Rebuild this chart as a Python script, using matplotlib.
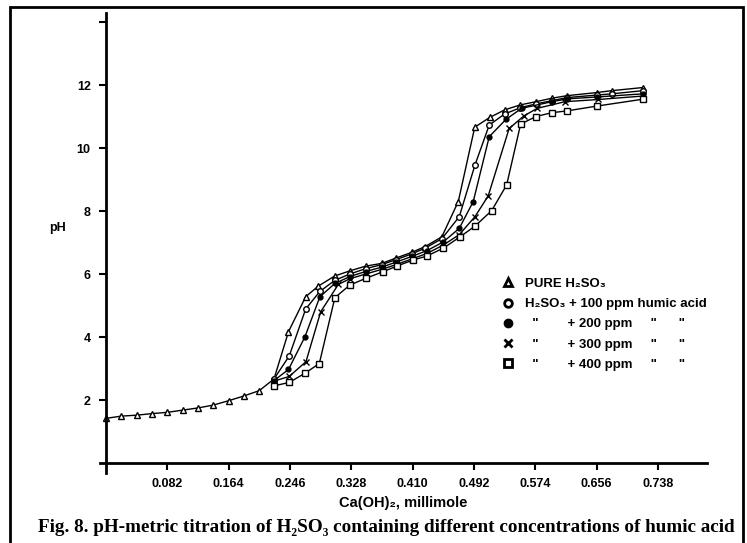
import matplotlib.pyplot as plt
from matplotlib.lines import Line2D
from matplotlib.patches import Rectangle

plt.rcParams['font.family'] = ['Liberation Sans', 'DejaVu Sans']
plt.rcParams['font.weight'] = 'bold'

# common start of all curves (pure acid points)
x_start = [0.0, 0.0205, 0.041, 0.0615, 0.082, 0.1025, 0.123, 0.1435, 0.164, 0.1845, 0.205]
ph_start = [1.42, 1.49, 1.52, 1.57, 1.61, 1.68, 1.75, 1.84, 1.98, 2.13, 2.30]

# pure H2SO3
x_pure = x_start + [0.2246, 0.244, 0.267, 0.284, 0.306, 0.326, 0.347, 0.369, 0.388, 0.409,
                    0.4265, 0.449, 0.471, 0.493, 0.513, 0.533, 0.554, 0.575, 0.596, 0.616,
                    0.656, 0.676, 0.718]
ph_pure = ph_start + [2.67, 4.17, 5.28, 5.62, 5.94, 6.10, 6.25, 6.34, 6.51, 6.69,
                      6.87, 7.18, 8.30, 10.66, 10.97, 11.21, 11.37, 11.47, 11.58, 11.66,
                      11.76, 11.82, 11.92]

# + 100 ppm humic acid
x_100 = [0.2246, 0.245, 0.267, 0.286, 0.306, 0.326, 0.347, 0.369, 0.388, 0.409, 0.4265,
         0.449, 0.4723, 0.4933, 0.5124, 0.533, 0.554, 0.575, 0.596, 0.616, 0.656, 0.676, 0.718]
ph_100 = [2.67, 3.40, 4.89, 5.45, 5.80, 6.00, 6.17, 6.30, 6.46, 6.64, 6.82,
          7.12, 7.82, 9.46, 10.73, 11.08, 11.28, 11.40, 11.50, 11.60, 11.68, 11.72, 11.82]

# + 200 ppm
x_200 = [0.2246, 0.244, 0.266, 0.286, 0.306, 0.326, 0.347, 0.369, 0.388, 0.409, 0.4288,
         0.451, 0.4723, 0.491, 0.5124, 0.5348, 0.5557, 0.596, 0.6167, 0.656, 0.718]
ph_200 = [2.62, 2.97, 4.01, 5.28, 5.70, 5.92, 6.08, 6.22, 6.38, 6.56, 6.74,
          7.02, 7.45, 8.30, 10.36, 10.91, 11.26, 11.47, 11.56, 11.62, 11.72]

# + 300 ppm
x_300 = [0.2246, 0.245, 0.2674, 0.287, 0.3106, 0.326, 0.347, 0.369, 0.388, 0.409, 0.4288,
         0.451, 0.4723, 0.4933, 0.511, 0.539, 0.5588, 0.5766, 0.6136, 0.6582, 0.718]
ph_300 = [2.60, 2.75, 3.22, 4.80, 5.67, 5.85, 6.00, 6.15, 6.30, 6.48, 6.65,
          6.92, 7.25, 7.82, 8.48, 10.62, 11.02, 11.26, 11.47, 11.54, 11.65]

# + 400 ppm
x_400 = [0.2246, 0.245, 0.266, 0.2852, 0.306, 0.326, 0.347, 0.370, 0.3886, 0.410, 0.4288,
         0.451, 0.4733, 0.4933, 0.5156, 0.5357, 0.5544, 0.5749, 0.5959, 0.6167, 0.656, 0.718]
ph_400 = [2.45, 2.56, 2.85, 3.16, 5.25, 5.65, 5.86, 6.07, 6.25, 6.44, 6.57,
          6.82, 7.18, 7.52, 8.01, 8.83, 10.76, 11.00, 11.12, 11.18, 11.33, 11.55]

xticks = [0.082, 0.164, 0.246, 0.328, 0.410, 0.492, 0.574, 0.656, 0.738]
yticks = [2, 4, 6, 8, 10, 12, 14]

labels = ['PURE H\u2082SO\u2083',
          'H\u2082SO\u2083 + 100 ppm humic acid',
          '  "        + 200 ppm     "      "',
          '  "        + 300 ppm     "      "',
          '  "        + 400 ppm     "      "']

fig = plt.figure(figsize=(7.47, 5.43), dpi=100)
ax = fig.add_axes([0.1339, 0.1298, 0.812, 0.8471])

styles = [
    (x_pure, ph_pure, '^', 'white', 4.2),
    (x_100, ph_100, 'o', 'white', 4),
    (x_200, ph_200, 'o', 'black', 3.5),
    (x_300, ph_300, 'x', 'black', 4.5),
    (x_400, ph_400, 's', 'white', 4),
]
handles = []
for xs, ys, m, fc, ms in styles:
    ax.plot(xs, ys, color='black', lw=1.0, marker=m, mfc=fc, mec='black', ms=ms, mew=1.0)
    handles.append(Line2D([], [], ls='none', marker=m, mfc=fc, mec='black', ms=ms + 1.5, mew=2))

ax.set_xlim(-0.008, 0.803)
ax.set_ylim(-0.3, 14.3)
for s in ['top', 'right']:
    ax.spines[s].set_visible(False)
ax.spines['left'].set_position(('data', 0))
ax.spines['bottom'].set_position(('data', 0))
ax.spines['left'].set_linewidth(2)
ax.spines['bottom'].set_linewidth(2)

ax.set_xticks(xticks)
ax.set_xticklabels(['%.3f' % v for v in xticks])
ax.set_yticks(yticks)
ax.set_yticklabels([str(v) for v in yticks[:-1]] + [''])
ax.tick_params(direction='out', length=5, width=1.5, labelsize=9, pad=6)

ax.set_xlabel('Ca(OH)\u2082, millimole', fontsize=10.5, fontweight='bold', labelpad=4)
fig.text(58 / 747, 1 - 228 / 543, 'pH', fontsize=9, fontweight='bold', ha='center', va='center')

ax.legend(handles, labels, loc='upper left', bbox_to_anchor=(488 / 747, 1 - 266 / 543),
          bbox_transform=fig.transFigure, frameon=False, fontsize=9.5,
          handletextpad=0.7, labelspacing=0.6, handlelength=1.2)

fig.text(386 / 747, 1 - 528 / 543,
         'Fig. 8. pH-metric titration of H\u2082SO\u2083 containing different concentrations of humic acid',
         family=['Liberation Serif', 'DejaVu Serif'], fontsize=13.8, fontweight='bold',
         ha='center', va='center')

fig.patches.append(Rectangle((10 / 747, -0.05), 733 / 747, 1.05 - 7 / 543, transform=fig.transFigure,
                             fill=False, ec='black', lw=2))

fig.savefig('out.png', dpi=100)
